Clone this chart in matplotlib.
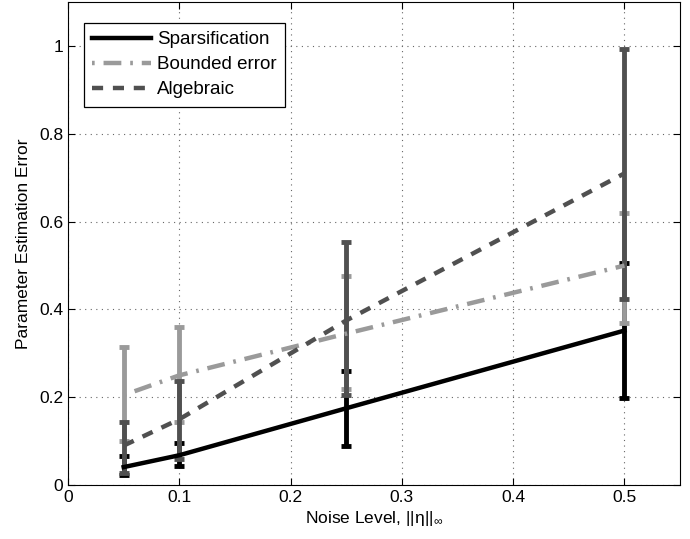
import matplotlib
matplotlib.use("Agg")
import matplotlib.pyplot as plt

plt.rcParams['font.family'] = ['Liberation Sans', 'DejaVu Sans']
plt.rcParams['mathtext.fontset'] = 'custom'
plt.rcParams['mathtext.rm'] = 'Liberation Sans'
plt.rcParams['mathtext.it'] = 'Liberation Sans:italic'

noise = [0.05, 0.1, 0.25, 0.5]

sparse_mean = [0.041, 0.068, 0.175, 0.352]
sparse_lo = [0.023, 0.043, 0.089, 0.198]
sparse_hi = [0.066, 0.095, 0.26, 0.507]

bounded_mean = [0.205, 0.25, 0.345, 0.50]
bounded_lo = [0.10, 0.143, 0.22, 0.37]
bounded_hi = [0.314, 0.36, 0.477, 0.62]

alg_mean = [0.09, 0.15, 0.375, 0.71]
alg_lo = [0.027, 0.06, 0.205, 0.423]
alg_hi = [0.143, 0.236, 0.553, 0.993]

labels = ['Sparsification', 'Bounded error', 'Algebraic']
colors = ['#000000', '#9a9a9a', '#505050']

fig = plt.figure(figsize=(6.9, 5.39), dpi=100)
ax = fig.add_axes([0.0986, 0.100, 0.887, 0.896])

def ebar(mean, lo, hi, c):
    yerr = [[m - l for m, l in zip(mean, lo)], [h - m for m, h in zip(mean, hi)]]
    ax.errorbar(noise, mean, yerr=yerr, fmt='none', ecolor=c, elinewidth=3.5,
                capsize=3.5, capthick=3.5, zorder=2)

ebar(sparse_mean, sparse_lo, sparse_hi, colors[0])
ebar(bounded_mean, bounded_lo, bounded_hi, colors[1])
ebar(alg_mean, alg_lo, alg_hi, colors[2])

ax.plot(noise, sparse_mean, color=colors[0], lw=3.2, ls='-', label=labels[0], zorder=5)
ax.plot(noise, bounded_mean, color=colors[1], lw=3.2, ls=(0, (0.6, 2, 4, 2)), label=labels[1], zorder=4)
ax.plot(noise, alg_mean, color=colors[2], lw=3.2, ls=(0, (2.5, 2.2)), label=labels[2], zorder=4)

ax.set_xlim(0, 0.55)
ax.set_ylim(0, 1.1)
ax.set_xticks([0, 0.1, 0.2, 0.3, 0.4, 0.5])
ax.set_xticklabels(['0', '0.1', '0.2', '0.3', '0.4', '0.5'])
ax.set_yticks([0, 0.2, 0.4, 0.6, 0.8, 1.0])
ax.set_yticklabels(['0', '0.2', '0.4', '0.6', '0.8', '1'])
ax.tick_params(direction='in', labelsize=12.5, length=5, top=True, right=True)
ax.grid(True, ls=(0, (1, 4)), color='#666666', lw=0.8)
ax.set_xlabel('Noise Level, ||η||$_\\infty$', fontsize=12.5, labelpad=3)
ax.set_ylabel('Parameter Estimation Error', fontsize=12.5, labelpad=6)

leg = ax.legend(loc='upper left', bbox_to_anchor=(0.026, 0.957), borderaxespad=0,
                fontsize=13.5, fancybox=False, edgecolor='black',
                framealpha=1, handlelength=3.1, handletextpad=0.35,
                labelspacing=0.42, borderpad=0.45)
leg.get_frame().set_linewidth(0.9)

fig.savefig('out.png', dpi=100)
